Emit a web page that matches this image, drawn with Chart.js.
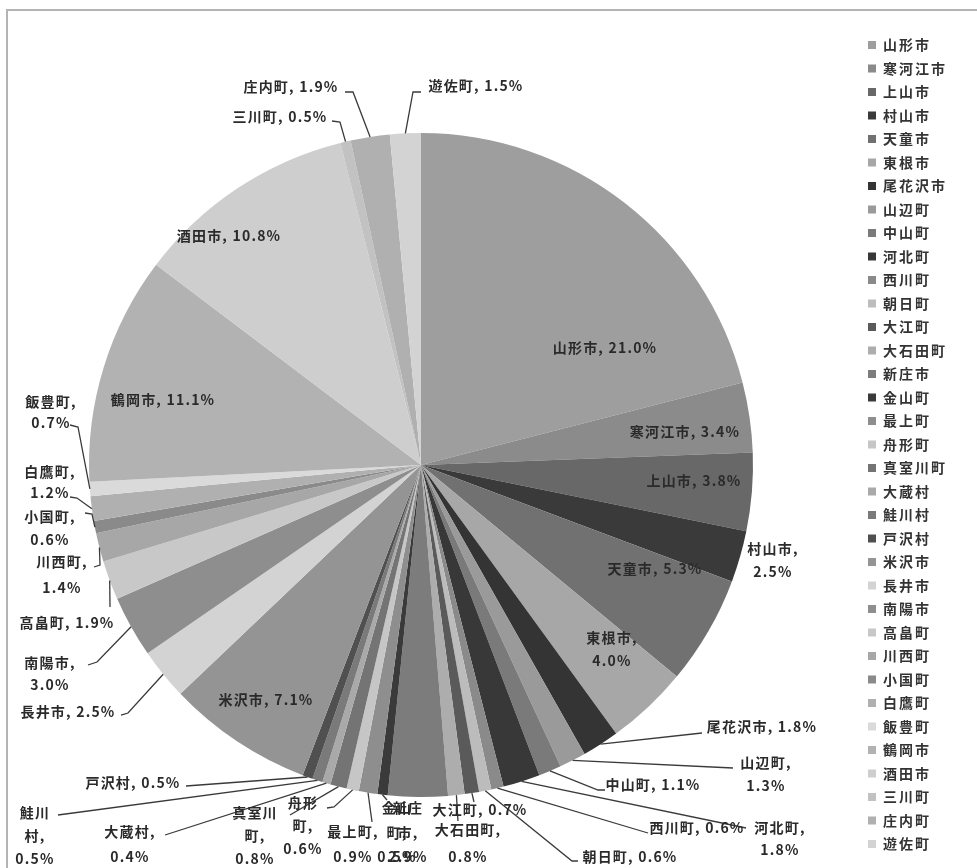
<!DOCTYPE html>
<html lang="ja">
<head>
<meta charset="utf-8">
<title>市町村別構成比</title>
<script src="https://cdn.jsdelivr.net/npm/chart.js@4.4.1/dist/chart.umd.min.js"></script>
<style>
html, body { margin: 0; padding: 0; background: #ffffff; }
#wrap { position: relative; width: 977px; height: 868px; }
</style>
</head>
<body>
<div id="wrap"><canvas id="chart" width="977" height="868"></canvas></div>
<script>
// 市町村名（時計回り、12時の位置から）
const categories = [
  '山形市', '寒河江市', '上山市', '村山市', '天童市', '東根市', '尾花沢市', '山辺町',
  '中山町', '河北町', '西川町', '朝日町', '大江町', '大石田町', '新庄市', '金山町',
  '最上町', '舟形町', '真室川町', '大蔵村', '鮭川村', '戸沢村', '米沢市', '長井市',
  '南陽市', '高畠町', '川西町', '小国町', '白鷹町', '飯豊町', '鶴岡市', '酒田市',
  '三川町', '庄内町', '遊佐町'
];

// 構成比（%）
const shares = [
  21.0, 3.4, 3.8, 2.5, 5.3, 4.0, 1.8, 1.3,
  1.1, 1.8, 0.6, 0.6, 0.7, 0.8, 2.9, 0.5,
  0.9, 0.6, 0.8, 0.4, 0.5, 0.5, 7.1, 2.5,
  3.0, 1.9, 1.4, 0.6, 1.2, 0.7, 11.1, 10.8,
  0.5, 1.9, 1.5
];

// 扇形の塗り（グレースケール）
const sliceGrays = [
  '#9e9e9e', '#8b8b8b', '#686868', '#3a3a3a', '#717171', '#a7a7a7', '#343434', '#9a9a9a',
  '#7a7a7a', '#383838', '#8a8a8a', '#bcbcbc', '#5a5a5a', '#adadad', '#7c7c7c', '#3a3a3a',
  '#8e8e8e', '#c6c6c6', '#747474', '#a9a9a9', '#7a7a7a', '#505050', '#949494', '#d3d3d3',
  '#8e8e8e', '#c8c8c8', '#a7a7a7', '#8a8a8a', '#b0b0b0', '#dadada', '#b2b2b2', '#cecece',
  '#c2c2c2', '#b0b0b0', '#d3d3d3'
];

// ラベルの配置: x, y = 1行目の中心, wrap: null=1行 / 'nv'=名称と値で2行 / 数値=名称をその文字数で分割して3行
// leader = ラベル側の引出線の折れ点（扇形側の端点は扇形の中心角から求める）
const labelLayout = {
  '山形市':   { x: 605, y: 348 },
  '寒河江市': { x: 685, y: 432 },
  '上山市':   { x: 694, y: 481 },
  '村山市':   { x: 773, y: 549, wrap: 'nv' },
  '天童市':   { x: 655, y: 569 },
  '東根市':   { x: 612, y: 638, wrap: 'nv' },
  '尾花沢市': { x: 762, y: 727, leader: [[702, 733]] },
  '山辺町':   { x: 766, y: 763, wrap: 'nv', leader: [[733, 768]] },
  '中山町':   { x: 653, y: 785, leader: [[605, 790], [598, 790]] },
  '西川町':   { x: 697, y: 828, leader: [[648, 833]] },
  '河北町':   { x: 780, y: 828, wrap: 'nv', lh: 22, leader: [[746, 828]] },
  '朝日町':   { x: 630, y: 857, leader: [[578, 861], [572, 861]] },
  '大江町':   { x: 480, y: 810, leader: [[474, 802]] },
  '大石田町': { x: 468, y: 830, wrap: 'nv', lh: 27, leader: [[458, 821]] },
  '新庄市':   { x: 408, y: 808, wrap: 2, lh: 24.5 },
  '金山町':   { x: 397, y: 808, wrap: 2, lh: 24.5, leader: [[387, 800]] },
  '最上町':   { x: 353, y: 832, wrap: 'nv', lh: 25, leader: [[372, 822]] },
  '舟形町':   { x: 303, y: 803, wrap: 2, lh: 23, leader: [[327, 808], [334, 807]] },
  '真室川町': { x: 255, y: 813, wrap: 3, lh: 23, leader: [[290, 815]] },
  '大蔵村':   { x: 130, y: 832, wrap: 'nv', lh: 25, leader: [[165, 835]] },
  '鮭川村':   { x: 35,  y: 813, wrap: 2, lh: 23, leader: [[58, 815]] },
  '戸沢村':   { x: 133, y: 783, leader: [[186, 786]] },
  '米沢市':   { x: 266, y: 700 },
  '長井市':   { x: 68,  y: 712, leader: [[121, 715], [128, 713]] },
  '南陽市':   { x: 50,  y: 663, wrap: 'nv', lh: 22, leader: [[88, 665], [97, 662]] },
  '高畠町':   { x: 67,  y: 623, leader: [[110, 607]] },
  '川西町':   { x: 62,  y: 562, wrap: 'nv', lh: 26, leader: [[94, 567], [100, 565]] },
  '小国町':   { x: 50,  y: 517, wrap: 'nv', lh: 23, leader: [[85, 513], [92, 514]] },
  '白鷹町':   { x: 50,  y: 472, wrap: 'nv', lh: 21, leader: [[70, 497], [77, 498]] },
  '飯豊町':   { x: 51,  y: 402, wrap: 'nv', lh: 21, leader: [[70, 425], [78, 427]] },
  '鶴岡市':   { x: 163, y: 400 },
  '酒田市':   { x: 229, y: 236 },
  '三川町':   { x: 280, y: 117, leader: [[332, 121], [340, 122]] },
  '庄内町':   { x: 291, y: 87,  leader: [[345, 92], [353, 92]] },
  '遊佐町':   { x: 476, y: 86,  leader: [[421, 92], [413, 92]] }
};

const FONT_FAMILY = '"Noto Sans CJK JP", "Noto Sans", sans-serif';
const TEXT_COLOR = '#2a2a2a';

function labelLines(name, value, wrap) {
  const v = value.toFixed(1) + '%';
  if (wrap === 'nv') return [name + ',', v];
  if (typeof wrap === 'number') return [name.slice(0, wrap), name.slice(wrap) + ',', v];
  return [name + ', ' + v];
}

// 枠線・凡例・データラベル・引出線を描くプラグイン
const annotationPlugin = {
  id: 'pieAnnotations',
  beforeDraw(chart) {
    const ctx = chart.ctx;
    ctx.save();
    ctx.fillStyle = '#ffffff';
    ctx.fillRect(0, 0, chart.width, chart.height);
    ctx.restore();
  },
  afterDraw(chart) {
    const ctx = chart.ctx;
    const meta = chart.getDatasetMeta(0);
    const values = chart.data.datasets[0].data;
    const names = chart.data.labels;

    // 外枠
    ctx.save();
    ctx.strokeStyle = '#b4b4b4';
    ctx.lineWidth = 2;
    ctx.beginPath();
    ctx.moveTo(7, chart.height);
    ctx.lineTo(7, 10);
    ctx.lineTo(chart.width, 10);
    ctx.stroke();
    ctx.restore();

    // 引出線
    ctx.save();
    ctx.strokeStyle = '#3a3a3a';
    ctx.lineWidth = 1.3;
    names.forEach((name, i) => {
      const lay = labelLayout[name];
      if (!lay || !lay.leader) return;
      const arc = meta.data[i];
      const p = arc.getProps(['x', 'y', 'startAngle', 'endAngle', 'outerRadius'], true);
      const mid = (p.startAngle + p.endAngle) / 2;
      const ex = p.x + Math.cos(mid) * p.outerRadius;
      const ey = p.y + Math.sin(mid) * p.outerRadius;
      ctx.beginPath();
      ctx.moveTo(lay.leader[0][0], lay.leader[0][1]);
      for (let k = 1; k < lay.leader.length; k++) ctx.lineTo(lay.leader[k][0], lay.leader[k][1]);
      ctx.lineTo(ex, ey);
      ctx.stroke();
    });
    ctx.restore();

    // データラベル
    ctx.save();
    ctx.font = 'bold 14px ' + FONT_FAMILY;
    if ('letterSpacing' in ctx) ctx.letterSpacing = '1.2px';
    ctx.fillStyle = TEXT_COLOR;
    ctx.textAlign = 'center';
    ctx.textBaseline = 'middle';
    names.forEach((name, i) => {
      const lay = labelLayout[name];
      if (!lay) return;
      const lines = labelLines(name, values[i], lay.wrap);
      const lh = lay.lh || 23;
      lines.forEach((t, k) => ctx.fillText(t, lay.x, lay.y + k * lh));
    });
    ctx.restore();

    // 凡例
    ctx.save();
    ctx.font = 'bold 14px ' + FONT_FAMILY;
    if ('letterSpacing' in ctx) ctx.letterSpacing = '2px';
    ctx.textAlign = 'left';
    ctx.textBaseline = 'middle';
    const top = 45, step = 23.5;
    names.forEach((name, i) => {
      const y = top + i * step;
      ctx.fillStyle = chart.data.datasets[0].backgroundColor[i];
      ctx.fillRect(868, y - 4, 8, 8);
      ctx.fillStyle = '#333333';
      ctx.fillText(name, 883, y);
    });
    ctx.restore();
  }
};

new Chart(document.getElementById('chart'), {
  type: 'pie',
  data: {
    labels: categories,
    datasets: [{
      data: shares,
      backgroundColor: sliceGrays,
      borderWidth: 0
    }]
  },
  options: {
    responsive: false,
    maintainAspectRatio: false,
    animation: false,
    layout: { padding: { left: 89, right: 224, top: 133, bottom: 71 } },
    plugins: {
      legend: { display: false },
      tooltip: { enabled: false }
    }
  },
  plugins: [annotationPlugin]
});
</script>
</body>
</html>
